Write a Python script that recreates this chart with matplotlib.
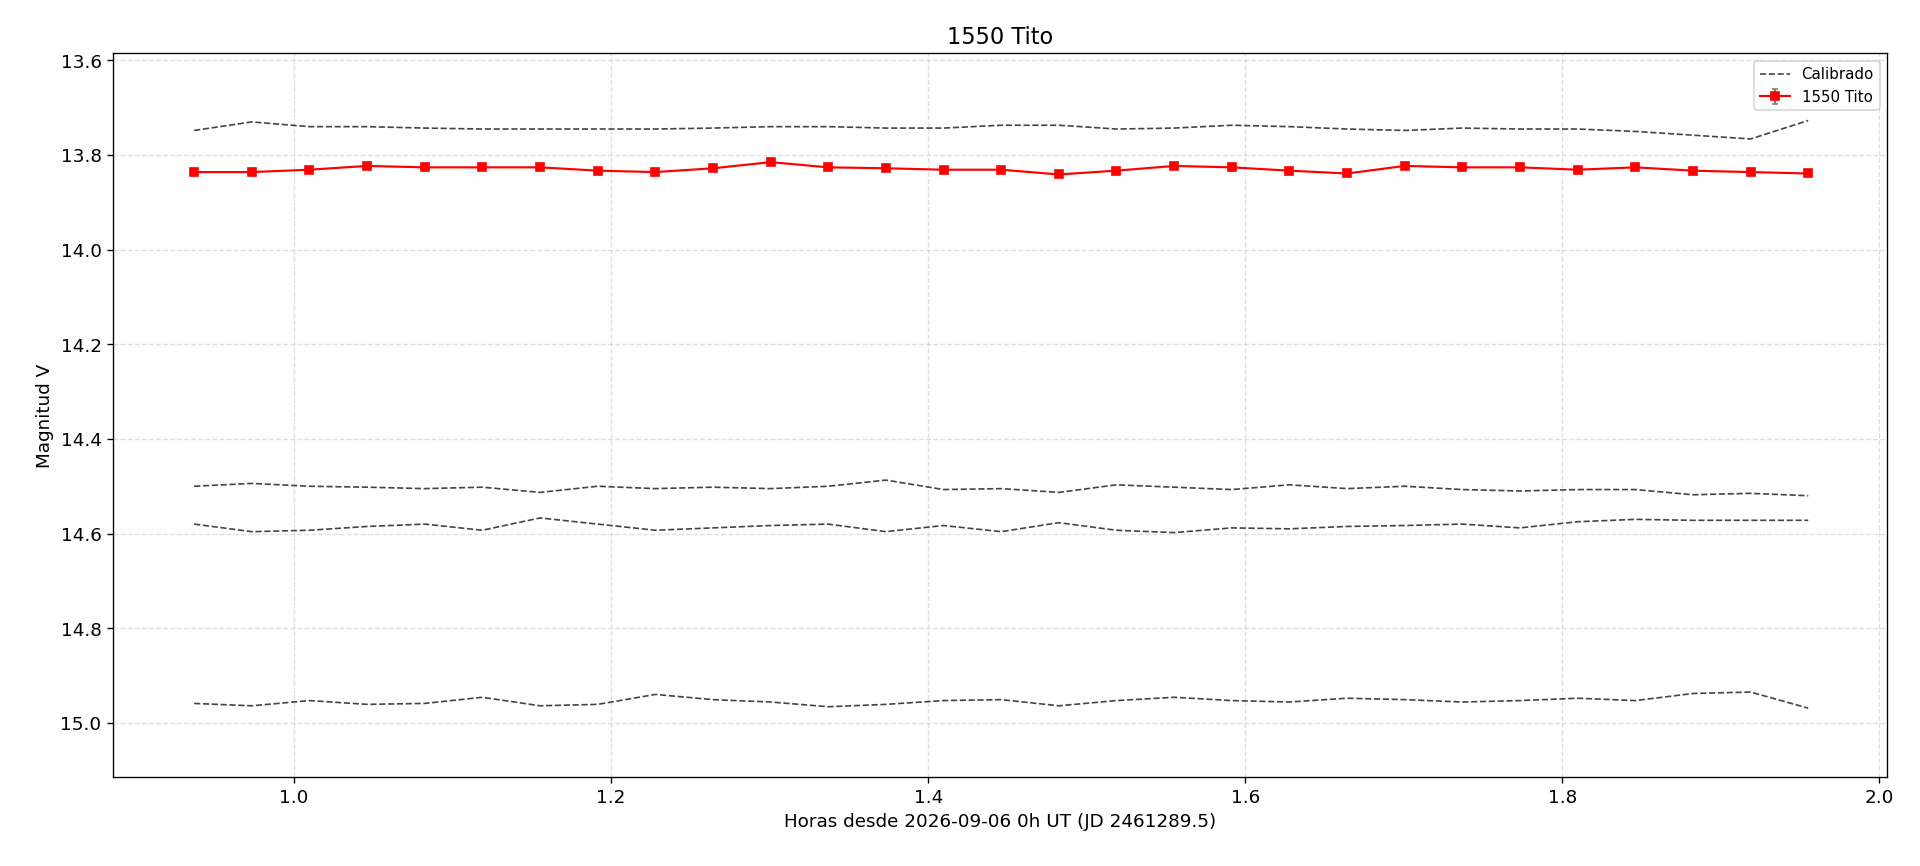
import numpy as np
import matplotlib
matplotlib.use("Agg")
import matplotlib.pyplot as plt

t0 = 0.937
dt = 0.03636
n = 29
hours = [t0 + i * dt for i in range(n)]

target = [13.836, 13.836, 13.831, 13.823, 13.826, 13.826, 13.826, 13.833, 13.836, 13.828,
          13.815, 13.826, 13.828, 13.831, 13.831, 13.841, 13.833, 13.823, 13.826, 13.833,
          13.839, 13.823, 13.826, 13.826, 13.831, 13.826, 13.833, 13.836, 13.839]
target_err = [0.003] * n

calib1 = [13.748, 13.730, 13.740, 13.740, 13.743, 13.745, 13.745, 13.745, 13.745, 13.743,
          13.740, 13.740, 13.743, 13.743, 13.737, 13.737, 13.745, 13.743, 13.737, 13.740,
          13.745, 13.748, 13.743, 13.745, 13.745, 13.750, 13.758, 13.766, 13.727]
calib2 = [14.500, 14.494, 14.500, 14.502, 14.505, 14.502, 14.513, 14.500, 14.505, 14.502,
          14.505, 14.500, 14.487, 14.507, 14.505, 14.513, 14.497, 14.502, 14.507, 14.497,
          14.505, 14.500, 14.507, 14.510, 14.507, 14.507, 14.518, 14.515, 14.520]
calib3 = [14.580, 14.596, 14.593, 14.585, 14.580, 14.593, 14.567, 14.580, 14.593, 14.588,
          14.583, 14.580, 14.596, 14.583, 14.596, 14.577, 14.593, 14.598, 14.588, 14.590,
          14.585, 14.583, 14.580, 14.588, 14.575, 14.570, 14.572, 14.572, 14.572]
calib4 = [14.959, 14.964, 14.953, 14.961, 14.959, 14.946, 14.964, 14.961, 14.940, 14.951,
          14.956, 14.966, 14.961, 14.953, 14.951, 14.964, 14.953, 14.946, 14.953, 14.956,
          14.948, 14.951, 14.956, 14.953, 14.948, 14.953, 14.938, 14.935, 14.969]

plt.rcParams['font.size'] = 11
fig = plt.figure(figsize=(16, 7.22), dpi=120)
ax = fig.add_axes([0.059, 0.103, 0.924, 0.835])

for i, c in enumerate([calib1, calib2, calib3, calib4]):
    ax.plot(hours, c, linestyle='--', color='#444444', linewidth=1,
            label='Calibrado' if i == 0 else None)

ax.errorbar(hours, target, yerr=target_err, color='red', marker='s', markersize=4.5,
            linewidth=1.3, ecolor='gray', capsize=2, label='1550 Tito')

ax.set_xlim(0.886, 2.005)
ax.set_ylim(15.114, 13.585)
ax.grid(True, linestyle='--', alpha=0.4)
ax.set_title('1550 Tito', fontsize=13.5)
ax.set_xlabel('Horas desde 2026-09-06 0h UT (JD 2461289.5)')
ax.set_ylabel('Magnitud V')
ax.legend(loc='upper right', fontsize=9)

fig.savefig('out.png', dpi=120)
